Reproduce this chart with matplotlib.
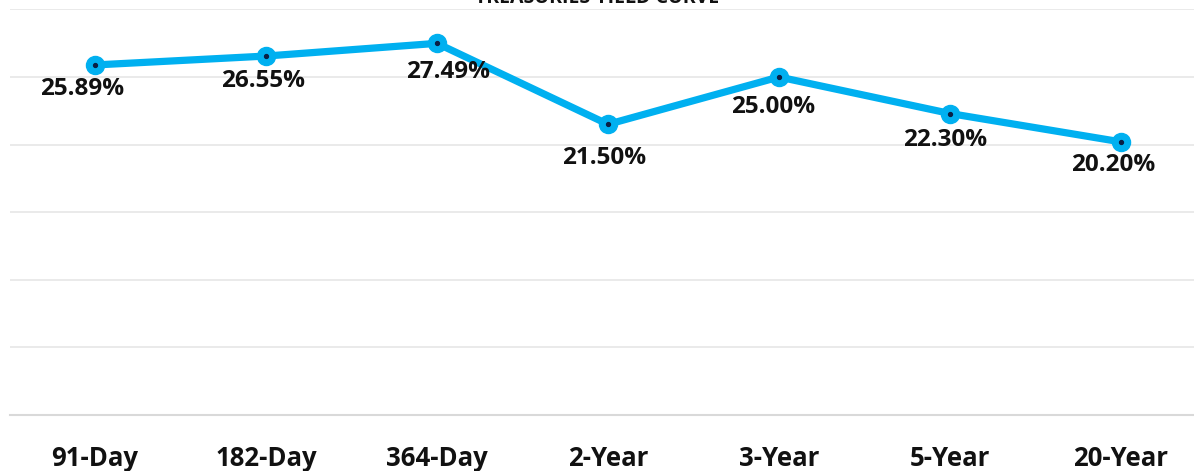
import matplotlib
matplotlib.use("Agg")
import matplotlib.pyplot as plt

tenors = ["91-Day", "182-Day", "364-Day", "2-Year", "3-Year", "5-Year", "20-Year"]
yields = [25.89, 26.55, 27.49, 21.50, 25.00, 22.30, 20.20]

# label nudges in pixels (dx, dy down), as placed in the original
label_nudge = [(-13, 24), (-3, 25), (11, 29), (-4, 34), (-6, 30), (-5, 26), (-8, 23)]

plt.rcParams["font.family"] = ["Open Sans", "DejaVu Sans"]

W, H = 1194, 471
fig = plt.figure(figsize=(W / 100, H / 100), dpi=100)
left, right, bottom, top = 9.5, 1194, 415, 9.4
ax = fig.add_axes([left / W, 1 - bottom / H, (right - left) / W, (bottom - top) / H])

x = list(range(len(tenors)))
ax.plot(x, yields, color="#00B0F0", linewidth=5.2, marker="o", markersize=13,
        markerfacecolor="#00B0F0", markeredgecolor="#00B0F0", zorder=3, solid_capstyle="round")
ax.plot(x, yields, linestyle="none", marker="o", markersize=2.8, color="#0a1f44", zorder=4)

for xi, v, (dx, dy) in zip(x, yields, label_nudge):
    ax.annotate(f"{v:.2f}%", (xi, v), xytext=(dx * 0.72, -dy * 0.72), textcoords="offset points",
                ha="center", va="center", fontsize=17.5, fontweight="bold", color="#111111")

ax.set_xlim(-0.5, -0.5 + (right - left) / 171)
ax.set_ylim(0, 30)
ax.set_yticks(range(0, 31, 5))
ax.yaxis.grid(True, color="#E6E6E6", linewidth=1.2)
ax.set_axisbelow(True)
ax.tick_params(axis="y", left=False, labelleft=False)
ax.set_xticks(x)
ax.set_xticklabels(tenors, fontsize=18.5, fontweight="bold", color="#111111")
ax.tick_params(axis="x", length=0, pad=21.5)
for s in ["top", "right", "left"]:
    ax.spines[s].set_visible(False)
ax.spines["bottom"].set_color("#D9D9D9")
ax.spines["bottom"].set_linewidth(1.5)

fig.text(0.5, 1 - 3 / H, "TREASURIES YIELD CURVE", ha="center", va="baseline",
         fontsize=14, fontweight="bold", color="#111111")

fig.savefig("out.png", dpi=100)
